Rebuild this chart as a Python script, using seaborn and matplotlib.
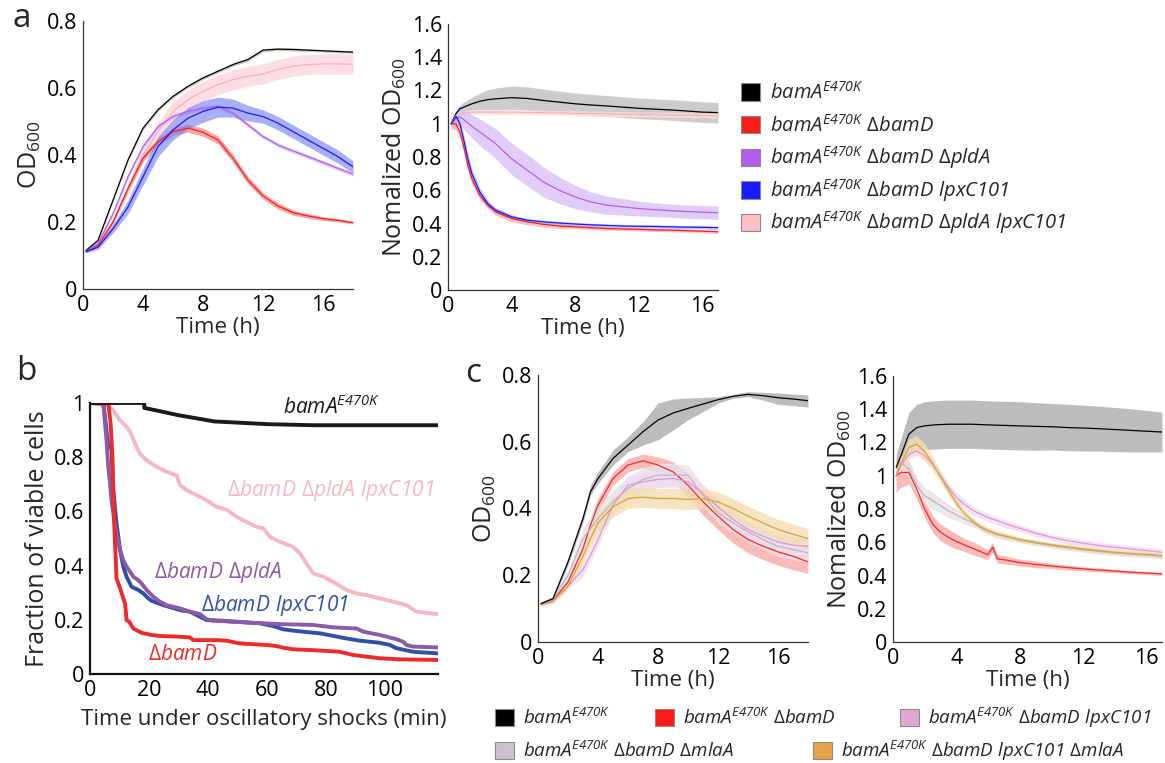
"""
Curvas de crescimento (OD600) e sobrevivência sob choques oscilatórios
Painéis a, b e c - mutantes bamA E470K
"""

import numpy as np
import matplotlib
matplotlib.use('Agg')
import matplotlib.pyplot as plt
from matplotlib.patches import Patch
from matplotlib.ticker import FormatStrFormatter
import seaborn as sns

# Estilo
sns.set_theme(style='white')
plt.rcParams['font.family'] = ['Open Sans', 'DejaVu Sans']
plt.rcParams['mathtext.fontset'] = 'custom'
plt.rcParams['mathtext.rm'] = 'Open Sans'
plt.rcParams['mathtext.it'] = 'Open Sans:italic'
plt.rcParams['mathtext.sf'] = 'Open Sans:italic'   # usado para nomes de genes (dígitos em itálico)
plt.rcParams['mathtext.bf'] = 'Open Sans:bold'

# ============================================================================
# DADOS
# ============================================================================

# --- Painel a, esquerda: OD600 ---
ta = [0.2, 1, 2, 3, 4, 5, 6, 7, 8, 9, 10, 11, 12, 13, 14, 15, 16, 17, 18]
a_od_black = [0.115, 0.145, 0.265, 0.385, 0.48, 0.535, 0.575, 0.605, 0.63, 0.65, 0.67, 0.685, 0.713, 0.716, 0.715, 0.713, 0.711, 0.709, 0.707]
a_od_red = [0.112, 0.13, 0.2, 0.3, 0.39, 0.44, 0.47, 0.48, 0.468, 0.445, 0.39, 0.325, 0.278, 0.248, 0.228, 0.218, 0.21, 0.205, 0.198]
a_od_purple = [0.112, 0.135, 0.225, 0.335, 0.425, 0.485, 0.515, 0.53, 0.54, 0.545, 0.525, 0.49, 0.455, 0.43, 0.412, 0.395, 0.378, 0.36, 0.343]
a_od_blue = [0.112, 0.125, 0.18, 0.245, 0.335, 0.425, 0.475, 0.51, 0.53, 0.543, 0.54, 0.525, 0.515, 0.495, 0.47, 0.445, 0.42, 0.395, 0.365]
a_od_pink = [0.112, 0.13, 0.2, 0.3, 0.4, 0.47, 0.53, 0.565, 0.59, 0.61, 0.625, 0.635, 0.642, 0.655, 0.665, 0.67, 0.672, 0.672, 0.671]
a_sd_black = [0.004, 0.004, 0.005, 0.005, 0.005, 0.005, 0.005, 0.005, 0.005, 0.005, 0.005, 0.005, 0.005, 0.005, 0.005, 0.004, 0.004, 0.004, 0.004]
a_sd_red = [0.003, 0.004, 0.006, 0.008, 0.01, 0.01, 0.011, 0.012, 0.012, 0.012, 0.012, 0.011, 0.01, 0.009, 0.008, 0.007, 0.006, 0.005, 0.004]
a_sd_purple = [0.003, 0.004, 0.005, 0.006, 0.006, 0.006, 0.006, 0.006, 0.006, 0.006, 0.006, 0.006, 0.006, 0.006, 0.006, 0.006, 0.006, 0.006, 0.006]
a_sd_blue = [0.004, 0.006, 0.012, 0.02, 0.025, 0.03, 0.03, 0.032, 0.032, 0.03, 0.027, 0.023, 0.02, 0.02, 0.02, 0.02, 0.02, 0.02, 0.018]
a_sd_pink = [0.003, 0.005, 0.01, 0.015, 0.02, 0.025, 0.03, 0.03, 0.03, 0.03, 0.03, 0.03, 0.03, 0.03, 0.03, 0.03, 0.03, 0.03, 0.03]

# --- Painel a, direita: OD600 normalizada ---
tn = [0.2, 0.5, 0.75, 1, 1.25, 1.5, 2, 2.5, 3, 4, 5, 6, 7, 8, 9, 10, 11, 12, 13, 14, 15, 16, 17]
n_black = [1.0, 1.06, 1.09, 1.10, 1.11, 1.12, 1.135, 1.145, 1.15, 1.157, 1.152, 1.14, 1.13, 1.12, 1.113, 1.107, 1.1, 1.093, 1.088, 1.083, 1.077, 1.07, 1.067]
n_pink = [1.0, 1.05, 1.06, 1.065, 1.068, 1.07, 1.07, 1.07, 1.07, 1.07, 1.068, 1.066, 1.065, 1.063, 1.061, 1.06, 1.058, 1.056, 1.055, 1.053, 1.052, 1.05, 1.048]
n_purple = [1.0, 1.035, 1.04, 1.025, 1.005, 0.985, 0.95, 0.915, 0.88, 0.79, 0.72, 0.65, 0.6, 0.56, 0.53, 0.51, 0.5, 0.49, 0.483, 0.477, 0.472, 0.468, 0.465]
n_blue = [1.0, 1.045, 1.0, 0.9, 0.79, 0.7, 0.59, 0.52, 0.48, 0.44, 0.42, 0.41, 0.403, 0.397, 0.392, 0.388, 0.385, 0.383, 0.382, 0.38, 0.378, 0.377, 0.375]
n_red = [1.0, 1.0, 0.95, 0.86, 0.75, 0.67, 0.57, 0.51, 0.47, 0.43, 0.41, 0.395, 0.385, 0.38, 0.375, 0.37, 0.367, 0.365, 0.362, 0.36, 0.357, 0.354, 0.35]
n_sd_black = [0.01, 0.02, 0.025, 0.03, 0.035, 0.04, 0.05, 0.06, 0.065, 0.07, 0.07, 0.068, 0.066, 0.065, 0.064, 0.063, 0.062, 0.062, 0.062, 0.062, 0.062, 0.062, 0.062]
n_sd_pink = [0.01, 0.015, 0.015, 0.015, 0.015, 0.015, 0.015, 0.015, 0.015, 0.015, 0.015, 0.015, 0.015, 0.015, 0.015, 0.015, 0.015, 0.015, 0.015, 0.015, 0.015, 0.015, 0.015]
n_sd_purple = [0.02, 0.04, 0.05, 0.06, 0.065, 0.07, 0.08, 0.085, 0.09, 0.095, 0.095, 0.09, 0.08, 0.07, 0.06, 0.055, 0.05, 0.045, 0.042, 0.04, 0.04, 0.04, 0.04]
n_sd_blue = [0.01, 0.02, 0.025, 0.03, 0.03, 0.03, 0.025, 0.02, 0.015, 0.012, 0.01, 0.01, 0.01, 0.01, 0.01, 0.01, 0.01, 0.01, 0.01, 0.01, 0.01, 0.01, 0.01]
n_sd_red = [0.03, 0.035, 0.035, 0.035, 0.035, 0.03, 0.025, 0.02, 0.02, 0.02, 0.018, 0.015, 0.015, 0.012, 0.012, 0.01, 0.01, 0.01, 0.01, 0.01, 0.01, 0.01, 0.01]

# --- Painel b: fração de células viáveis ---
b_black_t = [0, 18.4, 18.4, 30, 42.2, 60, 75.7, 118]
b_black_f = [1.0, 1.0, 0.982, 0.955, 0.932, 0.922, 0.918, 0.918]
b_red_t = [0, 6.2, 7.0, 7.6, 7.9, 8.2, 8.7, 9.0, 10.4, 11.3, 11.9, 12.4, 13.3, 14.7, 17.5, 20.9, 23.7, 29.4, 33.9, 35.0,
           42.9, 46.3, 50.8, 59.9, 63.3, 65.5, 68.9, 75.7, 84.7, 87.0, 89.3, 98.3, 105.1, 118]
b_red_f = [1.0, 0.998, 0.924, 0.801, 0.678, 0.555, 0.432, 0.353, 0.31, 0.279, 0.26, 0.199, 0.193, 0.168, 0.152, 0.144, 0.14, 0.138, 0.135, 0.125,
           0.125, 0.123, 0.113, 0.107, 0.103, 0.097, 0.091, 0.088, 0.082, 0.076, 0.07, 0.058, 0.054, 0.052]
b_blue_t = [0, 4.5, 5.1, 6.2, 7.3, 7.9, 9.0, 10.2, 11.3, 12.4, 14.1, 16.4, 18.1, 19.8, 20.9, 24.9, 30.5, 33.9, 39.5, 44.1,
            57.6, 62.1, 65.5, 68.9, 78.0, 87.0, 91.5, 98.3, 101.7, 103.9, 109.6, 118]
b_blue_f = [1.0, 0.998, 0.948, 0.838, 0.832, 0.678, 0.555, 0.457, 0.396, 0.359, 0.322, 0.31, 0.297, 0.279, 0.27, 0.254, 0.236, 0.23, 0.199, 0.197,
            0.187, 0.177, 0.165, 0.16, 0.15, 0.131, 0.123, 0.115, 0.107, 0.095, 0.082, 0.076]
b_purple_t = [0, 4.5, 5.6, 6.2, 6.8, 7.3, 7.9, 9.0, 10.2, 11.3, 12.4, 13.6, 14.7, 16.4, 17.5, 19.2, 21.5, 23.7, 26.0, 30.5,
              33.9, 37.3, 39.5, 41.8, 53.1, 64.4, 75.7, 82.5, 90.4, 92.7, 98.3, 104.0, 106.2, 107.3, 109.6, 118]
b_purple_f = [1.0, 0.998, 0.862, 0.764, 0.703, 0.641, 0.592, 0.518, 0.457, 0.42, 0.396, 0.377, 0.359, 0.346, 0.334, 0.31, 0.285, 0.267, 0.254, 0.242,
              0.23, 0.221, 0.202, 0.197, 0.19, 0.184, 0.181, 0.172, 0.168, 0.156, 0.144, 0.128, 0.119, 0.107, 0.101, 0.098]
b_pink_t = [0, 5.6, 7.9, 10.2, 12.4, 13.6, 15.3, 16.9, 19.2, 22.6, 26.0, 29.4, 30.5, 32.8, 36.2, 39.5, 42.9, 46.3, 49.7, 53.1,
            56.5, 58.8, 61.0, 64.4, 68.9, 71.2, 73.4, 75.7, 79.1, 82.5, 87.0, 90.4, 93.8, 98.3, 102.8, 107.3, 110.7, 118]
b_pink_f = [1.0, 0.998, 0.973, 0.936, 0.912, 0.893, 0.85, 0.813, 0.789, 0.764, 0.746, 0.733, 0.697, 0.678, 0.66, 0.641, 0.617, 0.607, 0.58, 0.561,
            0.543, 0.537, 0.506, 0.488, 0.469, 0.445, 0.408, 0.371, 0.359, 0.34, 0.31, 0.297, 0.291, 0.279, 0.267, 0.254, 0.23, 0.221]

# --- Painel c, esquerda: OD600 ---
tc = [0.2, 1, 2, 3, 3.5, 4, 5, 6, 7, 8, 9, 10, 11, 12, 13, 14, 15, 16, 17, 18]
c_black = [0.115, 0.13, 0.24, 0.37, 0.45, 0.49, 0.55, 0.59, 0.63, 0.665, 0.686, 0.70, 0.713, 0.726, 0.736, 0.742, 0.738, 0.732, 0.728, 0.723]
c_black_lo = [0.11, 0.125, 0.23, 0.36, 0.44, 0.475, 0.53, 0.57, 0.59, 0.606, 0.635, 0.666, 0.69, 0.716, 0.73, 0.735, 0.725, 0.712, 0.708, 0.704]
c_black_hi = [0.12, 0.135, 0.25, 0.385, 0.47, 0.51, 0.575, 0.615, 0.66, 0.716, 0.728, 0.731, 0.733, 0.735, 0.742, 0.75, 0.748, 0.746, 0.743, 0.74]
c_red = [0.113, 0.125, 0.18, 0.28, 0.35, 0.41, 0.49, 0.53, 0.543, 0.53, 0.51, 0.47, 0.42, 0.377, 0.337, 0.307, 0.287, 0.27, 0.257, 0.24]
c_gray = [0.113, 0.13, 0.2, 0.31, 0.34, 0.37, 0.42, 0.46, 0.487, 0.5, 0.5, 0.5, 0.44, 0.387, 0.357, 0.33, 0.307, 0.287, 0.277, 0.267]
c_orchid = [0.112, 0.12, 0.167, 0.217, 0.26, 0.307, 0.41, 0.47, 0.48, 0.487, 0.49, 0.48, 0.445, 0.405, 0.367, 0.337, 0.317, 0.3, 0.29, 0.287]
c_orange = [0.113, 0.125, 0.167, 0.257, 0.31, 0.357, 0.405, 0.43, 0.434, 0.43, 0.43, 0.427, 0.43, 0.42, 0.4, 0.377, 0.357, 0.337, 0.323, 0.31]
c_sd_red = [0.003, 0.005, 0.01, 0.015, 0.02, 0.02, 0.02, 0.02, 0.02, 0.025, 0.03, 0.035, 0.04, 0.04, 0.04, 0.04, 0.04, 0.04, 0.04, 0.035]
c_sd_gray = [0.003, 0.005, 0.015, 0.03, 0.035, 0.035, 0.035, 0.035, 0.035, 0.035, 0.035, 0.03, 0.03, 0.03, 0.03, 0.03, 0.03, 0.03, 0.03, 0.03]
c_sd_orchid = [0.003, 0.005, 0.01, 0.02, 0.02, 0.02, 0.025, 0.025, 0.025, 0.025, 0.025, 0.025, 0.025, 0.025, 0.025, 0.025, 0.025, 0.025, 0.025, 0.025]
c_sd_orange = [0.003, 0.005, 0.01, 0.02, 0.025, 0.03, 0.03, 0.03, 0.03, 0.03, 0.03, 0.03, 0.03, 0.03, 0.03, 0.03, 0.03, 0.03, 0.03, 0.03]

# --- Painel c, direita: OD600 normalizada ---
tcn = [0.2, 0.5, 1, 1.5, 2, 2.5, 3, 3.5, 4, 4.5, 5, 5.5, 6, 6.3, 6.6, 7, 8, 9, 10, 11, 12, 13, 14, 15, 16, 17]
cn_black = [1.05, 1.12, 1.25, 1.29, 1.3, 1.305, 1.308, 1.31, 1.31, 1.31, 1.31, 1.308, 1.306, 1.305, 1.304, 1.303, 1.3, 1.297, 1.295, 1.29, 1.287, 1.283, 1.278, 1.273, 1.268, 1.263]
cn_orange = [1.0, 1.07, 1.17, 1.19, 1.145, 1.075, 0.995, 0.915, 0.835, 0.775, 0.73, 0.695, 0.67, 0.66, 0.65, 0.64, 0.617, 0.6, 0.585, 0.572, 0.56, 0.55, 0.54, 0.533, 0.528, 0.52]
cn_orchid = [1.0, 1.06, 1.13, 1.15, 1.12, 1.07, 1.0, 0.93, 0.87, 0.83, 0.795, 0.77, 0.75, 0.74, 0.73, 0.715, 0.685, 0.655, 0.63, 0.61, 0.595, 0.58, 0.57, 0.56, 0.55, 0.54]
cn_gray = [1.0, 1.08, 1.04, 0.94, 0.88, 0.85, 0.82, 0.79, 0.765, 0.74, 0.72, 0.69, 0.665, 0.655, 0.645, 0.635, 0.612, 0.595, 0.58, 0.567, 0.555, 0.545, 0.535, 0.528, 0.522, 0.515]
cn_red = [1.0, 1.02, 1.02, 0.92, 0.8, 0.71, 0.66, 0.63, 0.605, 0.585, 0.565, 0.545, 0.525, 0.57, 0.5, 0.495, 0.478, 0.467, 0.457, 0.448, 0.44, 0.433, 0.427, 0.42, 0.415, 0.41]
cn_sd_black = [0.08, 0.1, 0.13, 0.14, 0.145, 0.145, 0.145, 0.145, 0.145, 0.145, 0.145, 0.145, 0.145, 0.145, 0.145, 0.145, 0.145, 0.143, 0.14, 0.14, 0.138, 0.135, 0.133, 0.13, 0.125, 0.12]
cn_sd_orange = [0.02, 0.03, 0.05, 0.05, 0.05, 0.04, 0.03, 0.03, 0.025, 0.02, 0.02, 0.02, 0.02, 0.02, 0.02, 0.02, 0.015, 0.015, 0.015, 0.015, 0.015, 0.015, 0.015, 0.015, 0.015, 0.015]
cn_sd_orchid = [0.02, 0.03, 0.03, 0.03, 0.03, 0.03, 0.03, 0.03, 0.03, 0.03, 0.025, 0.025, 0.025, 0.025, 0.025, 0.025, 0.02, 0.02, 0.02, 0.02, 0.02, 0.02, 0.02, 0.02, 0.02, 0.02]
cn_sd_gray = [0.02, 0.04, 0.05, 0.05, 0.05, 0.05, 0.045, 0.04, 0.035, 0.03, 0.025, 0.02, 0.02, 0.02, 0.02, 0.02, 0.015, 0.015, 0.015, 0.015, 0.015, 0.015, 0.015, 0.015, 0.015, 0.015]
cn_sd_red = [0.1, 0.09, 0.07, 0.06, 0.05, 0.05, 0.05, 0.05, 0.045, 0.04, 0.04, 0.035, 0.03, 0.03, 0.025, 0.025, 0.02, 0.02, 0.015, 0.015, 0.012, 0.012, 0.01, 0.01, 0.01, 0.01]

# Rótulos das linhagens (\mathsf -> Open Sans itálico)
BAMA = r'\mathsf{bamA}^{\mathsf{E470K}}'
D_BAMD = r'\Delta\mathsf{bamD}'
D_PLDA = r'\Delta\mathsf{pldA}'
D_MLAA = r'\Delta\mathsf{mlaA}'
LPXC = r'\mathsf{lpxC101}'


def genes(*partes):
    return '$' + r'\ '.join(partes) + '$'


lab_a = [
    genes(BAMA),
    genes(BAMA, D_BAMD),
    genes(BAMA, D_BAMD, D_PLDA),
    genes(BAMA, D_BAMD, LPXC),
    genes(BAMA, D_BAMD, D_PLDA, LPXC),
]
lab_c = [
    genes(BAMA),
    genes(BAMA, D_BAMD),
    genes(BAMA, D_BAMD, LPXC),
    genes(BAMA, D_BAMD, D_MLAA),
    genes(BAMA, D_BAMD, LPXC, D_MLAA),
]

# ============================================================================
# FIGURA
# ============================================================================
W, H = 1165, 763
fig = plt.figure(figsize=(W / 100, H / 100), dpi=100)

TICK = 15.5
LABEL = 16
YLABEL = 18


def eixo(l, t, r, b):
    return fig.add_axes([l / W, 1 - b / H, (r - l) / W, (b - t) / H])


def estilo(ax, xlim, ylim, xticks, yticks, xlabel, ylabel):
    ax.set_xlim(xlim)
    ax.set_ylim(ylim)
    ax.set_xticks(xticks)
    ax.set_yticks(yticks)
    ax.yaxis.set_major_formatter(FormatStrFormatter('%g'))
    ax.set_xlabel(xlabel, fontsize=LABEL, labelpad=1)
    ax.set_ylabel(ylabel, fontsize=YLABEL, labelpad=3)
    ax.tick_params(direction='in', length=3, width=0.8, color='#333333',
                   labelsize=TICK, labelcolor='black', pad=4)
    sns.despine(ax=ax)
    for s in ['left', 'bottom']:
        ax.spines[s].set_color('#333333')
        ax.spines[s].set_linewidth(0.9)
    ax.grid(False)


def faixas(ax, t, series):
    # series: (media, desvio, cor_linha, cor_faixa, alpha)
    t = np.asarray(t)
    for y, sd, _, cb, al in series:
        y = np.asarray(y)
        sd = np.asarray(sd)
        ax.fill_between(t, y - sd, y + sd, color=cb, alpha=al, lw=0)
    for y, _, cl, _, _ in series:
        sns.lineplot(x=t, y=y, ax=ax, color=cl, lw=0.9, estimator=None, sort=False)


# --- a esquerda ---
ax1 = eixo(83, 21, 353, 289)
faixas(ax1, ta, [
    (a_od_pink, a_sd_pink, '#f7b0ba', '#fbd2d8', 0.75),
    (a_od_black, a_sd_black, '#000000', '#999999', 0.5),
    (a_od_red, a_sd_red, '#ff1a1a', '#f28b8b', 0.75),
    (a_od_purple, a_sd_purple, '#b45ef0', '#cfa6f5', 0.6),
    (a_od_blue, a_sd_blue, '#1a1aff', '#6f79f2', 0.6),
])
estilo(ax1, (0, 18), (0, 0.8), [0, 4, 8, 12, 16], [0, 0.2, 0.4, 0.6, 0.8],
       'Time (h)', 'OD$_{600}$')

# --- a direita ---
ax2 = eixo(448, 24, 718, 290)
faixas(ax2, tn, [
    (n_black, n_sd_black, '#000000', '#c4c4c4', 0.85),
    (n_pink, n_sd_pink, '#f7b0ba', '#fcdde1', 0.8),
    (n_purple, n_sd_purple, '#b45ef0', '#dcc3f7', 0.85),
    (n_red, n_sd_red, '#ff1a1a', '#f6a8a8', 0.7),
    (n_blue, n_sd_blue, '#1a1aff', '#9ea6f8', 0.6),
])
estilo(ax2, (0, 17), (0, 1.6), [0, 4, 8, 12, 16], np.arange(0, 1.61, 0.2),
       'Time (h)', 'Nomalized OD$_{600}$')


def chave(x, y, cor, texto, tam):
    h = Patch(facecolor=cor, edgecolor='#8a8a8a', lw=0.8)
    fig.legend(handles=[h], labels=[texto], loc='center left',
               bbox_to_anchor=(x / W, 1 - y / H), frameon=False,
               borderpad=0, borderaxespad=0, handlelength=19.5 / (tam * 1.389),
               handleheight=19.5 / (tam * 1.389), handletextpad=0.45,
               prop={'size': tam})


# legenda a
cores_a = ['#000000', '#ff1a1a', '#b45ef0', '#1a1aff', '#ffc0cb']
for i, (cor, txt) in enumerate(zip(cores_a, lab_a)):
    chave(741, 93 + 32.5 * i, cor, txt, 14.5)

# --- b ---
ax3 = eixo(90, 403, 438, 674)
curvas_b = [
    (b_pink_t, b_pink_f, '#f6b6c4'),
    (b_blue_t, b_blue_f, '#3050a5'),
    (b_purple_t, b_purple_f, '#8b5aa8'),
    (b_red_t, b_red_f, '#ee2a2a'),
    (b_black_t, b_black_f, '#1a1a1a'),
]
for t, f, cor in curvas_b:
    sns.lineplot(x=t, y=f, ax=ax3, color=cor, lw=2.8, estimator=None, sort=False)
estilo(ax3, (0, 118), (0, 1), [0, 20, 40, 60, 80, 100], [0, 0.2, 0.4, 0.6, 0.8, 1],
       'Time under oscillatory shocks (min)', 'Fraction of viable cells')
ax3.xaxis.labelpad = 6
for s in ['left', 'bottom']:
    ax3.spines[s].set_linewidth(1.6)
    ax3.spines[s].set_color('#111111')

FS_B = 15
ax3.text(65.5, 0.958, genes(BAMA), color='#1a1a1a', fontsize=FS_B, va='baseline')
ax3.text(46.3, 0.656, genes(D_BAMD, D_PLDA, LPXC), color='#f6b6c4', fontsize=FS_B, va='baseline')
ax3.text(21.7, 0.353, genes(D_BAMD, D_PLDA), color='#8b5aa8', fontsize=FS_B, va='baseline')
ax3.text(37.5, 0.232, genes(D_BAMD, LPXC), color='#3050a5', fontsize=FS_B, va='baseline')
ax3.text(19.5, 0.052, genes(D_BAMD), color='#ee2a2a', fontsize=FS_B, va='baseline')

# --- c esquerda ---
ax4 = eixo(538, 375, 808, 642)
ax4.fill_between(tc, c_black_lo, c_black_hi, color='#b5b5b5', alpha=0.9, lw=0)
faixas(ax4, tc, [
    (c_red, c_sd_red, '#ee2a2a', '#f9a3a3', 0.75),
    (c_gray, c_sd_gray, '#bdb5bd', '#e6e2e7', 0.8),
    (c_orchid, c_sd_orchid, '#dc98d0', '#f1dbef', 0.8),
    (c_orange, c_sd_orange, '#d9a13a', '#f4dcb3', 0.8),
])
sns.lineplot(x=tc, y=c_black, ax=ax4, color='#000000', lw=0.9, estimator=None, sort=False)
estilo(ax4, (0, 18), (0, 0.8), [0, 4, 8, 12, 16], [0, 0.2, 0.4, 0.6, 0.8],
       'Time (h)', 'OD$_{600}$')

# --- c direita ---
ax5 = eixo(893, 376, 1162, 642)
faixas(ax5, tcn, [
    (cn_black, cn_sd_black, '#000000', '#b5b5b5', 0.9),
    (cn_red, cn_sd_red, '#ee2a2a', '#f9a3a3', 0.75),
    (cn_gray, cn_sd_gray, '#bdb5bd', '#e6e2e7', 0.8),
    (cn_orchid, cn_sd_orchid, '#dc98d0', '#f1dbef', 0.8),
    (cn_orange, cn_sd_orange, '#d9a13a', '#f4dcb3', 0.8),
])
estilo(ax5, (0, 17), (0, 1.6), [0, 4, 8, 12, 16], np.arange(0, 1.61, 0.2),
       'Time (h)', 'Nomalized OD$_{600}$')

# legenda c
cores_c = ['#000000', '#ff1a1a', '#e2a8d4', '#cbc3cb', '#e3a445']
pos_c = [(495, 718), (655, 718), (900, 718), (495, 751), (813, 751)]
for cor, txt, (x, y) in zip(cores_c, lab_c, pos_c):
    chave(x, y, cor, txt, 13.5)

# letras dos painéis
for letra, x, y in [('a', 12, 27), ('b', 16, 380), ('c', 465, 382)]:
    fig.text(x / W, 1 - y / H, letra, fontsize=24, va='baseline', ha='left')

plt.savefig('out.png', dpi=100)
